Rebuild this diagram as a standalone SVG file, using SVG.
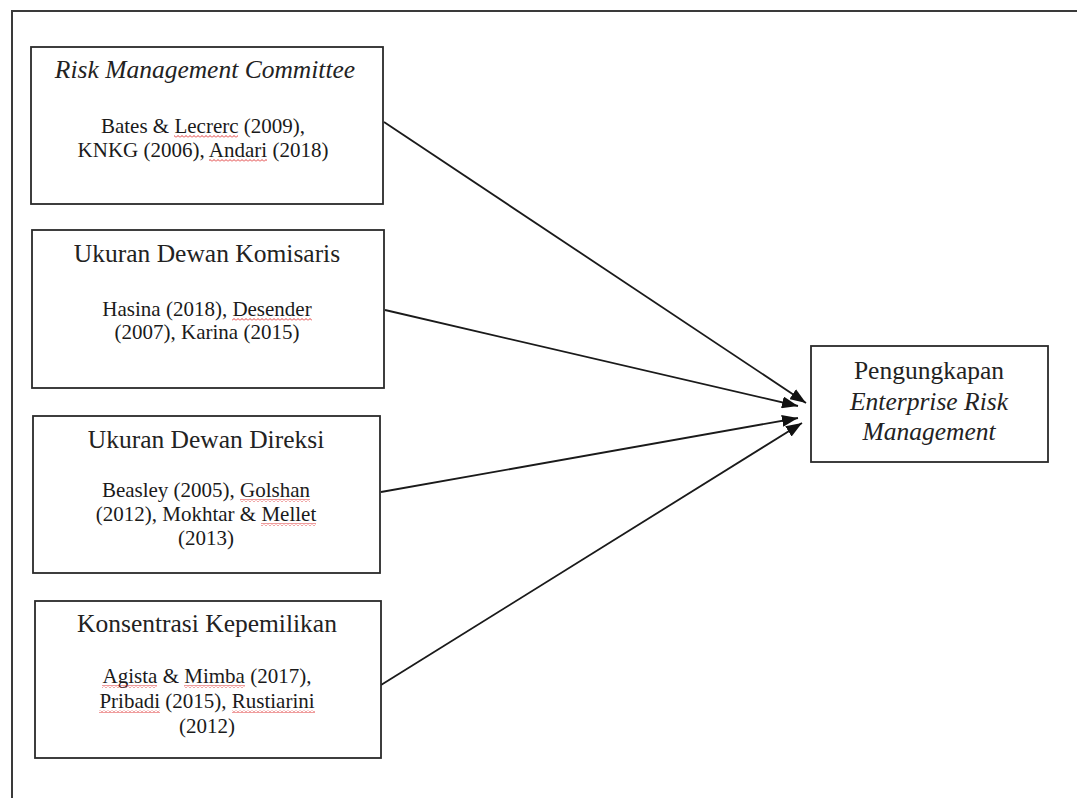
<svg xmlns="http://www.w3.org/2000/svg" width="1077" height="798" viewBox="0 0 1077 798">
<style>
.box{fill:#fff;stroke:#2a2a2a;stroke-width:1.8}
.t{font-family:"Liberation Serif","Times New Roman",serif;font-size:25.5px;fill:#222;text-anchor:middle}
.c{font-family:"Liberation Serif","Times New Roman",serif;font-size:21px;fill:#1a1a1a;text-anchor:middle}
.i{font-style:italic}
.edge{stroke:#1a1a1a;stroke-width:1.8;fill:none;marker-end:url(#ah)}
.sq{fill:url(#squig)}
</style>
<defs>
<marker id="ah" markerUnits="userSpaceOnUse" viewBox="0 0 16 12" refX="16" refY="6" markerWidth="16" markerHeight="12" orient="auto">
<path d="M0,0 L16,6 L0,12 z" fill="#111"/>
</marker>
<pattern id="squig" patternUnits="userSpaceOnUse" width="4" height="3">
<path d="M0,2.5 L2,0.5 L4,2.5" stroke="#d22" stroke-width="0.9" fill="none"/>
</pattern>
</defs>
<rect width="1077" height="798" fill="#fff"/>
<g id="frame">
<path d="M12,798 V11 H1077" fill="none" stroke="#3a3a3a" stroke-width="2"/>
</g>
<g id="connectors">
<line class="edge" x1="384" y1="122" x2="806" y2="403"/>
<line class="edge" x1="385" y1="310" x2="798" y2="406"/>
<line class="edge" x1="381" y1="492" x2="798" y2="418"/>
<line class="edge" x1="381" y1="685" x2="802" y2="423"/>
</g>
<g id="node-rmc">
<rect class="box" x="31" y="47" width="352" height="157"/>
<text class="t i" x="205" y="78">Risk Management Committee</text>
<text class="c" x="203" y="133">Bates &amp; Lecrerc (2009),</text>
<text class="c" x="203" y="157">KNKG (2006), Andari (2018)</text>
<rect class="sq" x="174" y="135" width="64" height="3"/>
<rect class="sq" x="209" y="159" width="58" height="3"/>
</g>
<g id="node-udk">
<rect class="box" x="32" y="230" width="352" height="158"/>
<text class="t" x="207" y="262">Ukuran Dewan Komisaris</text>
<text class="c" x="207" y="316">Hasina (2018), Desender</text>
<text class="c" x="207" y="339">(2007), Karina (2015)</text>
<rect class="sq" x="232" y="318" width="80" height="3"/>
</g>
<g id="node-udd">
<rect class="box" x="33" y="416" width="347" height="157"/>
<text class="t" x="206" y="448">Ukuran Dewan Direksi</text>
<text class="c" x="206" y="497">Beasley (2005), Golshan</text>
<text class="c" x="206" y="521">(2012), Mokhtar &amp; Mellet</text>
<text class="c" x="206" y="545">(2013)</text>
<rect class="sq" x="240" y="499" width="70" height="3"/>
<rect class="sq" x="261" y="523" width="55" height="3"/>
</g>
<g id="node-kk">
<rect class="box" x="35" y="601" width="346" height="157"/>
<text class="t" x="207" y="632">Konsentrasi Kepemilikan</text>
<text class="c" x="207" y="683">Agista &amp; Mimba (2017),</text>
<text class="c" x="207" y="708">Pribadi (2015), Rustiarini</text>
<text class="c" x="207" y="733">(2012)</text>
<rect class="sq" x="102" y="685" width="55" height="3"/>
<rect class="sq" x="184" y="685" width="61" height="3"/>
<rect class="sq" x="99" y="710" width="61" height="3"/>
<rect class="sq" x="232" y="710" width="83" height="3"/>
</g>
<g id="node-erm">
<rect class="box" x="811" y="346" width="237" height="116"/>
<text class="t" x="929" y="379">Pengungkapan</text>
<text class="t i" x="929" y="410">Enterprise Risk</text>
<text class="t i" x="929" y="440">Management</text>
</g>
</svg>
